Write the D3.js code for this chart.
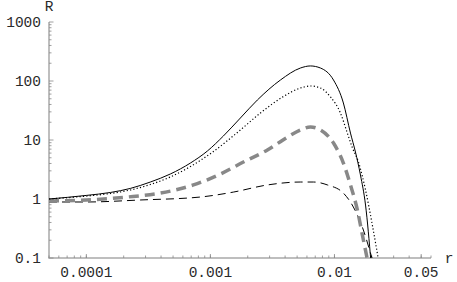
<!DOCTYPE html>
<html><head><meta charset="utf-8">
<script src="https://cdn.jsdelivr.net/npm/d3@7"></script>
<style>
html,body{margin:0;padding:0;background:#fff;}
</style></head>
<body><svg id="c" width="457" height="282"></svg>
<script>
// ---- data ----
const solidR_r = [5e-5, 1e-4, 1.563e-4, 2.26e-4, 3.28e-4, 4.75e-4, 6.90e-4, 9.46e-4, 1.273e-3, 1.745e-3, 2.39e-3, 3.67e-3, 5.32e-3, 6.4e-3, 7.71e-3, 9.82e-3, 1.18e-2, 1.346e-2, 1.476e-2, 1.62e-2, 1.78e-2, 1.97e-2];
const solidR_R = [1.0, 1.15, 1.29, 1.51, 1.94, 2.65, 4.07, 6.51, 11.7, 23.6, 47.6, 104, 166, 180, 166, 104, 42.4, 13.1, 6.26, 2.55, 0.79, 0.085];

const dottedR_r = [5e-5, 1e-4, 1.563e-4, 2.26e-4, 3.28e-4, 4.75e-4, 6.90e-4, 1.057e-3, 1.745e-3, 2.53e-3, 3.88e-3, 5.32e-3, 6.4e-3, 7.71e-3, 9.29e-3, 1.117e-2, 1.27e-2, 1.397e-2, 1.56e-2, 1.78e-2, 2.02e-2, 2.28e-2];
const dottedR_R = [1.0, 1.12, 1.24, 1.42, 1.76, 2.36, 3.55, 6.38, 14.8, 28.7, 54.6, 76.1, 82.3, 76.1, 53.6, 28.7, 13.1, 7.32, 4.24, 1.42, 0.362, 0.085];

const grayR_r = [5e-5, 1e-4, 2.14e-4, 3.96e-4, 7.30e-4, 1.205e-3, 1.845e-3, 2.88e-3, 4.18e-3, 5.32e-3, 6.40e-3, 7.71e-3, 9.82e-3, 1.18e-2, 1.346e-2, 1.53e-2, 1.68e-2, 1.86e-2];
const grayR_R = [0.925, 0.962, 1.08, 1.26, 1.73, 2.65, 4.24, 6.77, 11.2, 14.8, 16.6, 14.8, 8.89, 4.07, 1.73, 0.651, 0.245, 0.085];

const thinR_r = [5e-5, 1e-4, 2.72e-4, 8.30e-4, 1.532e-3, 2.88e-3, 5.32e-3, 6.77e-3, 8.79e-3, 1.18e-2, 1.42e-2, 1.71e-2, 1.95e-2, 2.07e-2];
const thinR_R = [0.89, 0.89, 0.962, 1.08, 1.31, 1.73, 1.94, 1.94, 1.73, 1.26, 0.732, 0.298, 0.122, 0.08];

const yTickVals = [0.1, 1, 10, 100, 1000];
const yTickLabels = ["0.1", "1", "10", "100", "1000"];
const xTickVals = [0.0001, 0.001, 0.01, 0.05];
const xTickLabels = ["0.0001", "0.001", "0.01", "0.05"];

// ---- chart ----
const FONT = "'Courier New', 'Liberation Mono', 'DejaVu Sans Mono', monospace";
const svg = d3.select("#c");
const x = d3.scaleLog().domain([5e-5, 0.06]).range([49, 431]);
const y = d3.scaleLog().domain([0.1, 1000]).range([258, 22]);
const axisColor = "#a8a8a8";

svg.append("clipPath").attr("id", "clip").append("rect")
  .attr("x", 49).attr("y", 0).attr("width", 400).attr("height", 258);

const yMinor = [];
for (let e = -1; e < 3; e++) for (let m = 2; m <= 9; m++) yMinor.push(m * Math.pow(10, e));
const xMinor = [];
for (let e = -5; e <= -2; e++) for (let m = 1; m <= 9; m++) { const v = m * Math.pow(10, e); if (v >= 5e-5 && v <= 0.06) xMinor.push(v); }

const g = svg.append("g");
g.append("line").attr("x1", 49).attr("x2", 49).attr("y1", y(1000)).attr("y2", 258)
  .attr("stroke", axisColor).attr("stroke-width", 1.5);
g.append("line").attr("x1", 48.25).attr("x2", x(0.06)).attr("y1", 258).attr("y2", 258)
  .attr("stroke", axisColor).attr("stroke-width", 1.5);

g.selectAll(".ymin").data(yMinor).enter().append("line")
  .attr("x1", 49).attr("x2", 51.5).attr("y1", d => y(d)).attr("y2", d => y(d))
  .attr("stroke", "#888").attr("stroke-width", 0.8);
g.selectAll(".ymaj").data(yTickVals).enter().append("line")
  .attr("x1", 49).attr("x2", 53.5).attr("y1", d => y(d)).attr("y2", d => y(d))
  .attr("stroke", "#888").attr("stroke-width", 0.8);
g.selectAll(".xmin").data(xMinor).enter().append("line")
  .attr("x1", d => x(d)).attr("x2", d => x(d)).attr("y1", 258).attr("y2", 255.5)
  .attr("stroke", "#888").attr("stroke-width", 0.8);
g.selectAll(".xmaj").data(xTickVals).enter().append("line")
  .attr("x1", d => x(d)).attr("x2", d => x(d)).attr("y1", 258).attr("y2", 254)
  .attr("stroke", "#888").attr("stroke-width", 0.8);

const txt = sel => sel.style("font-family", FONT).style("font-size", "14.5px").attr("fill", "#2a2a2a");

g.selectAll(".ylab").data(yTickVals).enter().append("text")
  .attr("x", 41).attr("y", d => y(d)).attr("dy", "0.35em").attr("text-anchor", "end")
  .call(txt).text((d, i) => yTickLabels[i]);
g.selectAll(".xlab").data(xTickVals).enter().append("text")
  .attr("x", d => x(d)).attr("y", 272).attr("dy", "0.35em").attr("text-anchor", "middle")
  .call(txt).text((d, i) => xTickLabels[i]);

svg.append("text").attr("x", 49).attr("y", 6).attr("dy", "0.35em").attr("text-anchor", "middle").call(txt).text("R");
svg.append("text").attr("x", 449).attr("y", 258).attr("dy", "0.35em").attr("text-anchor", "middle").call(txt).text("r");

const line = d3.line().x(d => x(d[0])).y(d => y(d[1])).curve(d3.curveMonotoneX);
const zip = (a, b) => a.map((v, i) => [v, b[i]]);
const plot = svg.append("g").attr("clip-path", "url(#clip)");

plot.append("path").attr("d", line(zip(thinR_r, thinR_R)))
  .attr("fill", "none").attr("stroke", "#000").attr("stroke-width", 1).attr("stroke-dasharray", "8,5");
plot.append("path").attr("d", line(zip(grayR_r, grayR_R)))
  .attr("fill", "none").attr("stroke", "#888").attr("stroke-width", 3.5).attr("stroke-dasharray", "10,6");
plot.append("path").attr("d", line(zip(dottedR_r, dottedR_R)))
  .attr("fill", "none").attr("stroke", "#000").attr("stroke-width", 1.2).attr("stroke-dasharray", "1.2,2.2");
plot.append("path").attr("d", line(zip(solidR_r, solidR_R)))
  .attr("fill", "none").attr("stroke", "#000").attr("stroke-width", 1);
</script></body></html>
